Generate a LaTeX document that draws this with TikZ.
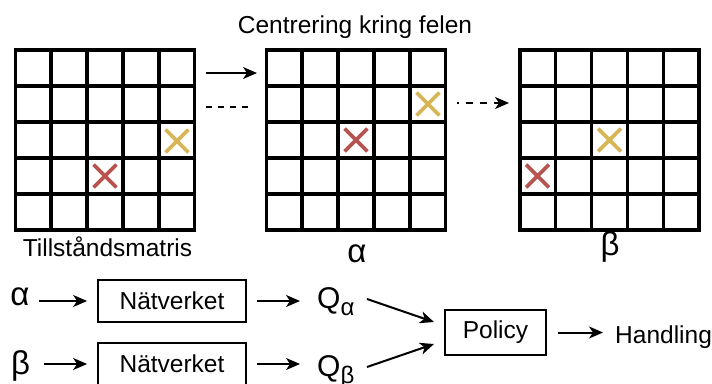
\documentclass[tikz,border=0pt]{standalone}
\usepackage{fontspec}
\setmainfont{Liberation Sans}
\usetikzlibrary{arrows.meta,shapes.misc,calc}

\definecolor{markred}{HTML}{B85450}
\definecolor{markyellow}{HTML}{D6B656}

\tikzset{
  txt/.style={font=\fontsize{24.5}{29}\selectfont, inner sep=0pt},
  big/.style={font=\fontsize{30}{36}\selectfont, inner sep=0pt},
  greek/.style={font=\fontsize{33}{38}\selectfont, inner sep=0pt},
  board/.style={draw, line width=3.8pt, minimum width=179pt, minimum height=180pt, inner sep=0pt, outer sep=0pt},
  cellline/.style={line width=3.3pt},
  xmark/.style={cross out, draw=#1, line width=3.8pt, minimum size=19pt, inner sep=0pt},
  arr/.style={line width=2pt, -{Stealth[length=14pt,width=12pt,inset=4pt]}},
  dsh/.style={line width=2pt, dash pattern=on 6pt off 6pt},
  box/.style={draw, line width=1.8pt, txt, inner sep=0pt},
}

\begin{document}
\begin{tikzpicture}[x=1pt,y=-1pt]
\useasboundingbox (0,0) rectangle (712,383);

% three 5x5 boards
\node[board] (g1) at (105,140) {};
\node[board] (g2) at (356,140) {};
\node[board] (g3) at (609.5,140) {};
\foreach \g in {g1,g2,g3}{
  \foreach \k in {-54,-18,18,54}{
    \draw[cellline] ([xshift=\k pt]\g.north) -- ([xshift=\k pt]\g.south);
    \draw[cellline] ([yshift=\k pt]\g.west) -- ([yshift=\k pt]\g.east);
  }
}

% markers
\node[xmark=markyellow] (y1) at (177,141) {};
\node[xmark=markred]    (r1) at (105,176) {};
\node[xmark=markyellow] (y2) at (428,104) {};
\node[xmark=markred]    (r2) at (356,140) {};
\node[xmark=markyellow] (y3) at (609.5,140) {};
\node[xmark=markred]    (r3) at (537.5,176) {};

% labels of the boards
\node[txt, anchor=base] (title) at (355,33) {Centrering kring felen};
\node[txt, anchor=base] (l1) at (107.5,256) {Tillståndsmatris};
\node[greek, anchor=base] (l2) at (357,262) {α};
\node[greek, anchor=base] (l3) at (610,255) {β};

% transitions between boards
\coordinate (s1) at (206,73);
\coordinate (e1) at (257,73);
\draw[arr] (s1) -- (e1);
\coordinate (s2) at (206,107);
\coordinate (e2) at (252,107);
\draw[dsh] (s2) -- (e2);
\coordinate (s3) at (457,103);
\coordinate (e3) at (509,103);
\draw[arr, dash pattern=on 7pt off 7pt, dash phase=5pt] (s3) -- (e3);

% network pipeline
\node[greek, anchor=base] (aL) at (20,305) {α};
\node[greek, anchor=base] (bL) at (20.5,374) {β};
\node[box, minimum width=148pt, minimum height=42pt] (b1) at (172,301) {Nätverket};
\node[box, minimum width=148pt, minimum height=42pt] (b2) at (172,364) {Nätverket};
\node[big, anchor=base west] (qa) at (317,308) {Q\raisebox{-7pt}{\fontsize{24}{24}\selectfont α}};
\node[big, anchor=base west] (qb) at (317,376.5) {Q\raisebox{-7pt}{\fontsize{24}{24}\selectfont β}};
\node[box, minimum width=101pt, minimum height=45pt] (pol) at (495.5,332.5) {Policy};
\node[txt, anchor=base west] (hd) at (615,343) {Handling};

\draw[arr, shorten <=9pt, shorten >=10pt] (aL.east |- b1.west) -- (b1.west);
\draw[arr, shorten <=14pt, shorten >=10pt] (bL.east |- b2.west) -- (b2.west);
\draw[arr, shorten <=10pt, shorten >=17pt] (b1.east) -- (b1.east -| qa.west);
\draw[arr, shorten <=10pt, shorten >=17pt] (b2.east) -- (b2.east -| qb.west);

\coordinate (qaout) at (367,299);
\coordinate (qbout) at (367,367);
\coordinate (pin1) at (434,322);
\coordinate (pin2) at (434,344);
\draw[arr] (qaout) -- (pin1);
\draw[arr] (qbout) -- (pin2);

\draw[arr, shorten <=11pt, shorten >=12pt] (pol.east) -- (pol.east -| hd.west);
\end{tikzpicture}
\end{document}
